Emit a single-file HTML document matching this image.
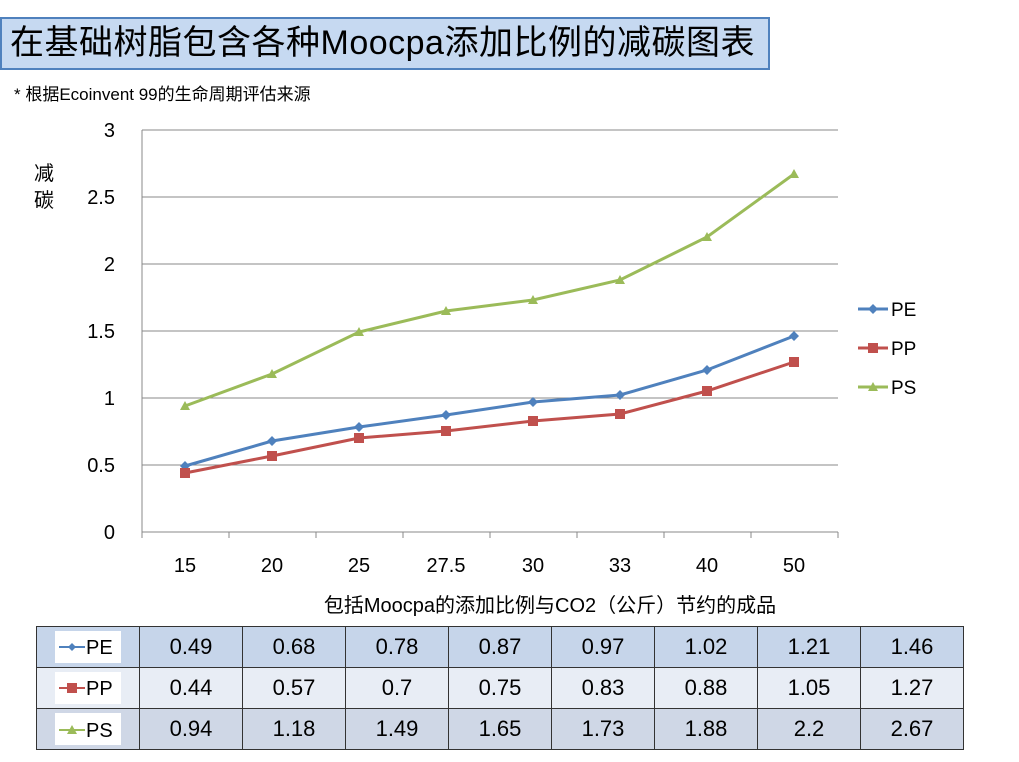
<!DOCTYPE html>
<html><head><meta charset="utf-8"><style>
body{margin:0;width:1019px;height:762px;background:#fff;position:relative;overflow:hidden;font-family:"Liberation Sans","Noto Sans CJK SC",sans-serif}
.t{position:absolute;left:0;top:17px;width:770px;height:53px;background:#c6d9f1;border:2px solid #4f81bd;box-sizing:border-box;font-size:34px;line-height:49px;padding-left:8px;color:#000;letter-spacing:0.5px}
.s{position:absolute;left:14px;top:80px;font-size:17px}
table{position:absolute;left:36px;top:626px;border-collapse:collapse;font-size:22px}
td{border:1.5px solid #333;height:40px;width:102px;text-align:center;padding:0}
.lg{display:inline-block;vertical-align:middle}
</style></head><body>
<div class="t">在基础树脂包含各种Moocpa添加比例的减碳图表</div>
<div class="s">* 根据Ecoinvent 99的生命周期评估来源</div>
<svg width="1019" height="620" style="position:absolute;left:0;top:0" font-family="Liberation Sans, Noto Sans CJK SC, sans-serif">
<g stroke="#888" stroke-width="1">
<line x1="142" x2="838" y1="130" y2="130"/><line x1="142" x2="838" y1="197" y2="197"/><line x1="142" x2="838" y1="264" y2="264"/><line x1="142" x2="838" y1="331" y2="331"/><line x1="142" x2="838" y1="398" y2="398"/><line x1="142" x2="838" y1="465" y2="465"/><line x1="142" x2="838" y1="532" y2="532"/>
<line x1="142" x2="142" y1="130" y2="538"/>
<line x1="229" x2="229" y1="532" y2="538"/><line x1="316" x2="316" y1="532" y2="538"/><line x1="403" x2="403" y1="532" y2="538"/><line x1="490" x2="490" y1="532" y2="538"/><line x1="577" x2="577" y1="532" y2="538"/><line x1="664" x2="664" y1="532" y2="538"/><line x1="751" x2="751" y1="532" y2="538"/><line x1="838" x2="838" y1="532" y2="538"/>
</g>
<g font-size="20" text-anchor="end"><text x="115" y="137">3</text><text x="115" y="204">2.5</text><text x="115" y="271">2</text><text x="115" y="338">1.5</text><text x="115" y="405">1</text><text x="115" y="472">0.5</text><text x="115" y="539">0</text></g>
<g font-size="20" text-anchor="middle"><text x="185" y="572">15</text><text x="272" y="572">20</text><text x="359" y="572">25</text><text x="446" y="572">27.5</text><text x="533" y="572">30</text><text x="620" y="572">33</text><text x="707" y="572">40</text><text x="794" y="572">50</text>
<text x="550" y="612">包括Moocpa的添加比例与CO2（公斤）节约的成品</text></g>
<text x="34" y="180" font-size="20">减</text><text x="34" y="207" font-size="20">碳</text>
<polyline fill="none" stroke="#9bbb59" stroke-width="3" points="185,406 272,374 359,332 446,311 533,300 620,280 707,237 794,174"/>
<polyline fill="none" stroke="#4f81bd" stroke-width="3" points="185,466 272,441 359,427 446,415 533,402 620,395 707,370 794,336"/>
<polyline fill="none" stroke="#c0504d" stroke-width="3" points="185,473 272,456 359,438 446,431 533,421 620,414 707,391 794,362"/>
<g fill="#9bbb59"><path d="M185,401l5,9h-10z M272,369l5,9h-10z M359,327l5,9h-10z M446,306l5,9h-10z M533,295l5,9h-10z M620,275l5,9h-10z M707,232l5,9h-10z M794,169l5,9h-10z"/></g>
<g fill="#4f81bd"><path d="M185,461l5,5-5,5-5-5z M272,436l5,5-5,5-5-5z M359,422l5,5-5,5-5-5z M446,410l5,5-5,5-5-5z M533,397l5,5-5,5-5-5z M620,390l5,5-5,5-5-5z M707,365l5,5-5,5-5-5z M794,331l5,5-5,5-5-5z"/></g>
<g fill="#c0504d"><rect x="180" y="468" width="10" height="10"/><rect x="267" y="451" width="10" height="10"/><rect x="354" y="433" width="10" height="10"/><rect x="441" y="426" width="10" height="10"/><rect x="528" y="416" width="10" height="10"/><rect x="615" y="409" width="10" height="10"/><rect x="702" y="386" width="10" height="10"/><rect x="789" y="357" width="10" height="10"/></g>
<g font-size="19">
<line x1="858" x2="888" y1="309" y2="309" stroke="#4f81bd" stroke-width="3"/><path d="M873,304l5,5-5,5-5-5z" fill="#4f81bd"/><text x="891" y="316">PE</text>
<line x1="858" x2="888" y1="348" y2="348" stroke="#c0504d" stroke-width="3"/><rect x="868" y="343" width="10" height="10" fill="#c0504d"/><text x="891" y="355">PP</text>
<line x1="858" x2="888" y1="387" y2="387" stroke="#9bbb59" stroke-width="3"/><path d="M873,382l5,9h-10z" fill="#9bbb59"/><text x="891" y="394">PS</text>
</g>
</svg>
<table>
<tr style="background:#c6d5ea"><td><svg class="lg" width="66" height="32"><rect width="66" height="32" fill="#fff"/><line x1="4" x2="30" y1="16" y2="16" stroke="#4f81bd" stroke-width="2"/><path d="M17,12l4,4-4,4-4-4z" fill="#4f81bd"/><text x="31" y="23" font-size="20" font-family="Liberation Sans">PE</text></svg></td><td>0.49</td><td>0.68</td><td>0.78</td><td>0.87</td><td>0.97</td><td>1.02</td><td>1.21</td><td>1.46</td></tr>
<tr style="background:#e8edf5"><td><svg class="lg" width="66" height="32"><rect width="66" height="32" fill="#fff"/><line x1="4" x2="30" y1="16" y2="16" stroke="#c0504d" stroke-width="2"/><rect x="12" y="11" width="10" height="10" fill="#c0504d"/><text x="31" y="23" font-size="20" font-family="Liberation Sans">PP</text></svg></td><td>0.44</td><td>0.57</td><td>0.7</td><td>0.75</td><td>0.83</td><td>0.88</td><td>1.05</td><td>1.27</td></tr>
<tr style="background:#cfd7e6"><td><svg class="lg" width="66" height="32"><rect width="66" height="32" fill="#fff"/><line x1="4" x2="30" y1="17" y2="17" stroke="#9bbb59" stroke-width="2"/><path d="M17,12l5,9h-10z" fill="#9bbb59"/><text x="31" y="24" font-size="20" font-family="Liberation Sans">PS</text></svg></td><td>0.94</td><td>1.18</td><td>1.49</td><td>1.65</td><td>1.73</td><td>1.88</td><td>2.2</td><td>2.67</td></tr>
</table>
</body></html>
